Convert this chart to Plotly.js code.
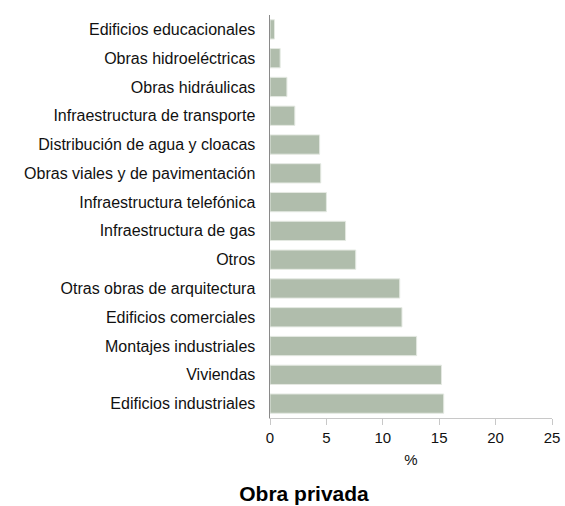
<!DOCTYPE html>
<html>
<head>
<meta charset="utf-8">
<script src="https://cdn.plot.ly/plotly-3.0.1.min.js"></script>
<style>html,body{margin:0;padding:0;background:#fff;}#chart{width:565px;height:506px;}</style>
</head>
<body>
<div id="chart"></div>
<script>
const categories = [
  "Edificios industriales",
  "Viviendas",
  "Montajes industriales",
  "Edificios comerciales",
  "Otras obras de arquitectura",
  "Otros",
  "Infraestructura de gas",
  "Infraestructura telefónica",
  "Obras viales y de pavimentación",
  "Distribución de agua y cloacas",
  "Infraestructura de transporte",
  "Obras hidráulicas",
  "Obras hidroeléctricas",
  "Edificios educacionales"
];
const values = [15.4, 15.2, 13.0, 11.7, 11.5, 7.6, 6.7, 5.0, 4.5, 4.4, 2.2, 1.5, 0.9, 0.4];
const xTicks = [0, 5, 10, 15, 20, 25];
const chartTitle = "Obra privada";
const xTitle = "%";

const font = "Liberation Sans, Arial, Helvetica, sans-serif";

Plotly.newPlot("chart", [{
  type: "bar",
  orientation: "h",
  y: categories,
  x: values,
  marker: {color: "#b0bdac", line: {color: "#e4e9e2", width: 1}},
  hoverinfo: "none"
}], {
  width: 565,
  height: 506,
  margin: {l: 270, r: 13, t: 15, b: 88},
  paper_bgcolor: "#fff",
  plot_bgcolor: "#fff",
  bargap: 0.33,
  showlegend: false,
  font: {family: font, color: "#111", size: 15},
  title: {
    text: "<b>" + chartTitle + "</b>",
    font: {family: font, size: 21, color: "#000"},
    xref: "container", yref: "container",
    x: 304 / 565, xanchor: "center",
    y: 1 - 494 / 506, yanchor: "middle"
  },
  xaxis: {
    range: [0, 25],
    tickvals: xTicks,
    ticktext: xTicks.map(String),
    showgrid: false,
    zeroline: false,
    showline: true,
    linecolor: "#c8c8c8",
    linewidth: 1,
    ticks: "outside",
    ticklen: 6,
    tickcolor: "#c8c8c8",
    tickfont: {family: font, size: 15, color: "#111"},
    title: {text: xTitle, font: {family: font, size: 15, color: "#111"}, standoff: 9},
    fixedrange: true
  },
  yaxis: {
    type: "category",
    categoryorder: "array",
    categoryarray: categories,
    range: [-0.5, 13.5],
    showgrid: false,
    zeroline: false,
    showline: true,
    linecolor: "#8a8a8a",
    linewidth: 1.5,
    ticks: "",
    ticklabelstandoff: 10,
    tickfont: {family: font, size: 16, color: "#111"},
    fixedrange: true
  }
}, {displayModeBar: false, staticPlot: true});
</script>
</body>
</html>
